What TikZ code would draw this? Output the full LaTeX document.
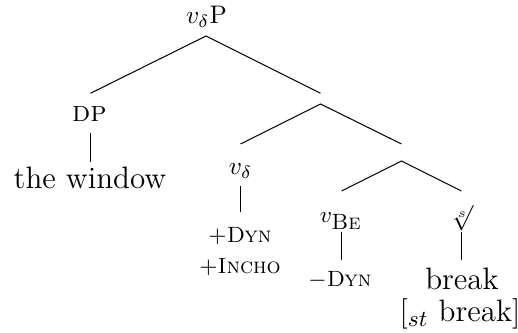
\documentclass[tikz,border=0pt]{standalone}
\begin{document}
\begin{tikzpicture}[x=0.3937pt,y=-0.3937pt,
  cat/.style={inner sep=0pt,font=\fontsize{10}{12}\selectfont},
  dpcat/.style={inner sep=0pt,font=\fontsize{11.5}{13}\selectfont},
  feat/.style={inner sep=0pt,font=\fontsize{8.7}{10}\selectfont},
  word/.style={inner sep=0pt,font=\fontsize{12.2}{14}\selectfont},
  branch/.style={line width=0.4pt}]
\useasboundingbox (0,0) rectangle (518,333);
% labels
\node[cat]   (root)  at (206.5,17)  {$v_\delta$P};
\node[dpcat] (dp)    at (89.5,114)  {\textsc{dp}};
\node[word]  (win)   at (90,178)    {the window};
\node[cat]   (vd)    at (240.5,171) {$v_\delta$};
\node[feat]  (dyn)   at (240,236)   {$+$\textsc{Dyn}};
\node[feat]  (incho) at (240,267)   {$+$\textsc{Incho}};
\node[feat]  (vbe)   at (341,221)   {$v_{\mbox{\textsc{Be}}}$};
\node[cat]   (root2) at (462,218)   {$\sqrt[s]{}$};
\node[feat]  (mdyn)  at (340,280)   {$-$\textsc{Dyn}};
\node[word]  (brk)   at (462,279)   {break};
\node[word]  (stbrk) at (460,314)   {$[_{st}$ break$]$};
% branch points
\coordinate (rootB) at (206,36);
\coordinate (dpT)   at (90.5,93.3);
\coordinate (midT)  at (320.5,93.3);
\coordinate (midB)  at (320.5,104);
\coordinate (vdT)   at (240.5,144);
\coordinate (lowT)  at (401.5,144);
\coordinate (lowB)  at (401.5,161);
\coordinate (vbeT)  at (341.5,191);
\coordinate (rtT)   at (461.5,191);
\coordinate (dpB)   at (90.5,133);
\coordinate (winT)  at (90.5,162);
\coordinate (vdB)   at (240.5,186);
\coordinate (dynT)  at (240.5,212);
\coordinate (vbeB)  at (341.5,232);
\coordinate (mdynT) at (341.5,260);
\coordinate (rtB)   at (461.5,232);
\coordinate (brkT)  at (461.5,260);
% branches
\draw[branch] (dpT) -- (rootB) -- (midT);
\draw[branch] (vdT) -- (midB) -- (lowT);
\draw[branch] (vbeT) -- (lowB) -- (rtT);
\draw[branch] (dpB) -- (winT);
\draw[branch] (vdB) -- (dynT);
\draw[branch] (vbeB) -- (mdynT);
\draw[branch] (rtB) -- (brkT);
\end{tikzpicture}
\end{document}
